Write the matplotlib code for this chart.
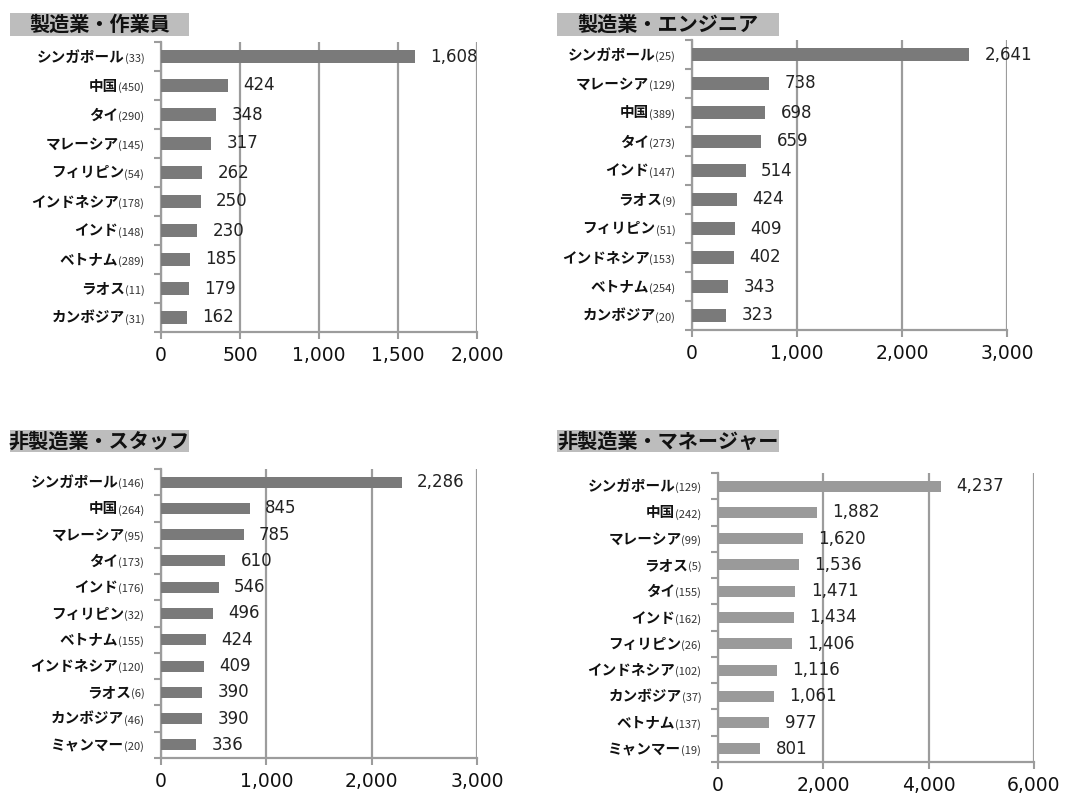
import matplotlib
matplotlib.use('Agg')
import matplotlib.pyplot as plt
import numpy as np
from matplotlib.patches import Rectangle
from matplotlib.ticker import FuncFormatter
from matplotlib.offsetbox import TextArea, HPacker, AnnotationBbox

JP = ['Noto Sans CJK JP', 'DejaVu Sans']

# 製造業・作業員
title1 = '製造業・作業員'
names1 = ['シンガポール', '中国', 'タイ', 'マレーシア', 'フィリピン', 'インドネシア',
          'インド', 'ベトナム', 'ラオス', 'カンボジア']
counts1 = [33, 450, 290, 145, 54, 178, 148, 289, 11, 31]
values1 = [1608, 424, 348, 317, 262, 250, 230, 185, 179, 162]

# 製造業・エンジニア
title2 = '製造業・エンジニア'
names2 = ['シンガポール', 'マレーシア', '中国', 'タイ', 'インド', 'ラオス',
          'フィリピン', 'インドネシア', 'ベトナム', 'カンボジア']
counts2 = [25, 129, 389, 273, 147, 9, 51, 153, 254, 20]
values2 = [2641, 738, 698, 659, 514, 424, 409, 402, 343, 323]

# 非製造業・スタッフ
title3 = '非製造業・スタッフ'
names3 = ['シンガポール', '中国', 'マレーシア', 'タイ', 'インド', 'フィリピン',
          'ベトナム', 'インドネシア', 'ラオス', 'カンボジア', 'ミャンマー']
counts3 = [146, 264, 95, 173, 176, 32, 155, 120, 6, 46, 20]
values3 = [2286, 845, 785, 610, 546, 496, 424, 409, 390, 390, 336]

# 非製造業・マネージャー
title4 = '非製造業・マネージャー'
names4 = ['シンガポール', '中国', 'マレーシア', 'ラオス', 'タイ', 'インド',
          'フィリピン', 'インドネシア', 'カンボジア', 'ベトナム', 'ミャンマー']
counts4 = [129, 242, 99, 5, 155, 162, 26, 102, 37, 137, 19]
values4 = [4237, 1882, 1620, 1536, 1471, 1434, 1406, 1116, 1061, 977, 801]

W, H = 1081, 794
fig = plt.figure(figsize=(W / 100, H / 100), dpi=100)

GRID = '#9c9c9c'


def px_axes(x0, y0, x1, y1):
    # pixel box -> figure fraction
    return fig.add_axes((x0 / W, 1 - y1 / H, (x1 - x0) / W, (y1 - y0) / H))


def title_box(x0, y0, x1, y1, text):
    fig.patches.append(Rectangle((x0 / W, 1 - y1 / H), (x1 - x0) / W, (y1 - y0) / H,
                                 transform=fig.transFigure, facecolor='#bdbdbd',
                                 edgecolor='none'))
    fig.text((x0 + x1) / 2 / W, 1 - (y0 + y1) / 2 / H, text, ha='center', va='center',
             fontsize=14.5, fontweight='bold', family=JP, color='#111111')


def panel(ax, names, counts, values, xmax, step, color):
    n = len(names)
    y = np.arange(n)
    ax.barh(y, values, height=0.42, color=color, zorder=3)
    ax.set_xlim(0, xmax)
    ax.set_ylim(n - 0.5, -0.5)
    ax.set_xticks(np.arange(0, xmax + 1, step))
    ax.xaxis.set_major_formatter(FuncFormatter(lambda v, p: f'{v:,.0f}'))
    ax.set_yticks(y)
    ax.set_yticklabels([''] * n)
    ax.set_yticks(np.arange(-0.5, n), minor=True)
    ax.tick_params(axis='y', which='major', length=0)
    ax.tick_params(axis='y', which='minor', length=5, width=1.5, color=GRID)
    ax.tick_params(axis='x', length=5, width=1.5, color=GRID, labelsize=13.5, pad=5,
                   labelcolor='#111111')
    for lab in ax.get_xticklabels():
        lab.set_family('DejaVu Sans')
    ax.xaxis.grid(True, color=GRID, lw=1.6, zorder=0)
    ax.set_axisbelow(True)
    for s in ['top', 'right']:
        ax.spines[s].set_visible(False)
    for s in ['left', 'bottom']:
        ax.spines[s].set_color(GRID)
        ax.spines[s].set_linewidth(1.6)

    for i, (nm, c, v) in enumerate(zip(names, counts, values)):
        ax.annotate(f'{v:,}', (v, i), xytext=(11, 0), textcoords='offset points',
                    va='center', ha='left', fontsize=12, color='#222222',
                    family='DejaVu Sans', zorder=4)
        box = HPacker(children=[
            TextArea(nm, textprops=dict(fontsize=10.5, fontweight='bold', family=JP,
                                        color='#111111')),
            TextArea(f'({c})', textprops=dict(fontsize=8, family=JP, color='#333333')),
        ], align='baseline', pad=0, sep=0)
        ab = AnnotationBbox(box, (0, i), xycoords=('axes fraction', 'data'),
                            xybox=(-12, 0), boxcoords='offset points',
                            box_alignment=(1, 0.5), frameon=False,
                            annotation_clip=False)
        ax.add_artist(ab)


ax1 = px_axes(161, 42, 477, 332)
panel(ax1, names1, counts1, values1, 2000, 500, '#7a7a7a')
title_box(10, 13, 189, 36, title1)

ax2 = px_axes(692, 40, 1007, 330)
panel(ax2, names2, counts2, values2, 3000, 1000, '#7a7a7a')
title_box(557, 13, 779, 36, title2)

ax3 = px_axes(161, 469, 477, 758)
panel(ax3, names3, counts3, values3, 3000, 1000, '#7a7a7a')
title_box(10, 430, 189, 452, title3)

ax4 = px_axes(718, 473, 1034, 762)
panel(ax4, names4, counts4, values4, 6000, 2000, '#9a9a9a')
title_box(557, 430, 779, 452, title4)

plt.savefig('out.png', dpi=100)
